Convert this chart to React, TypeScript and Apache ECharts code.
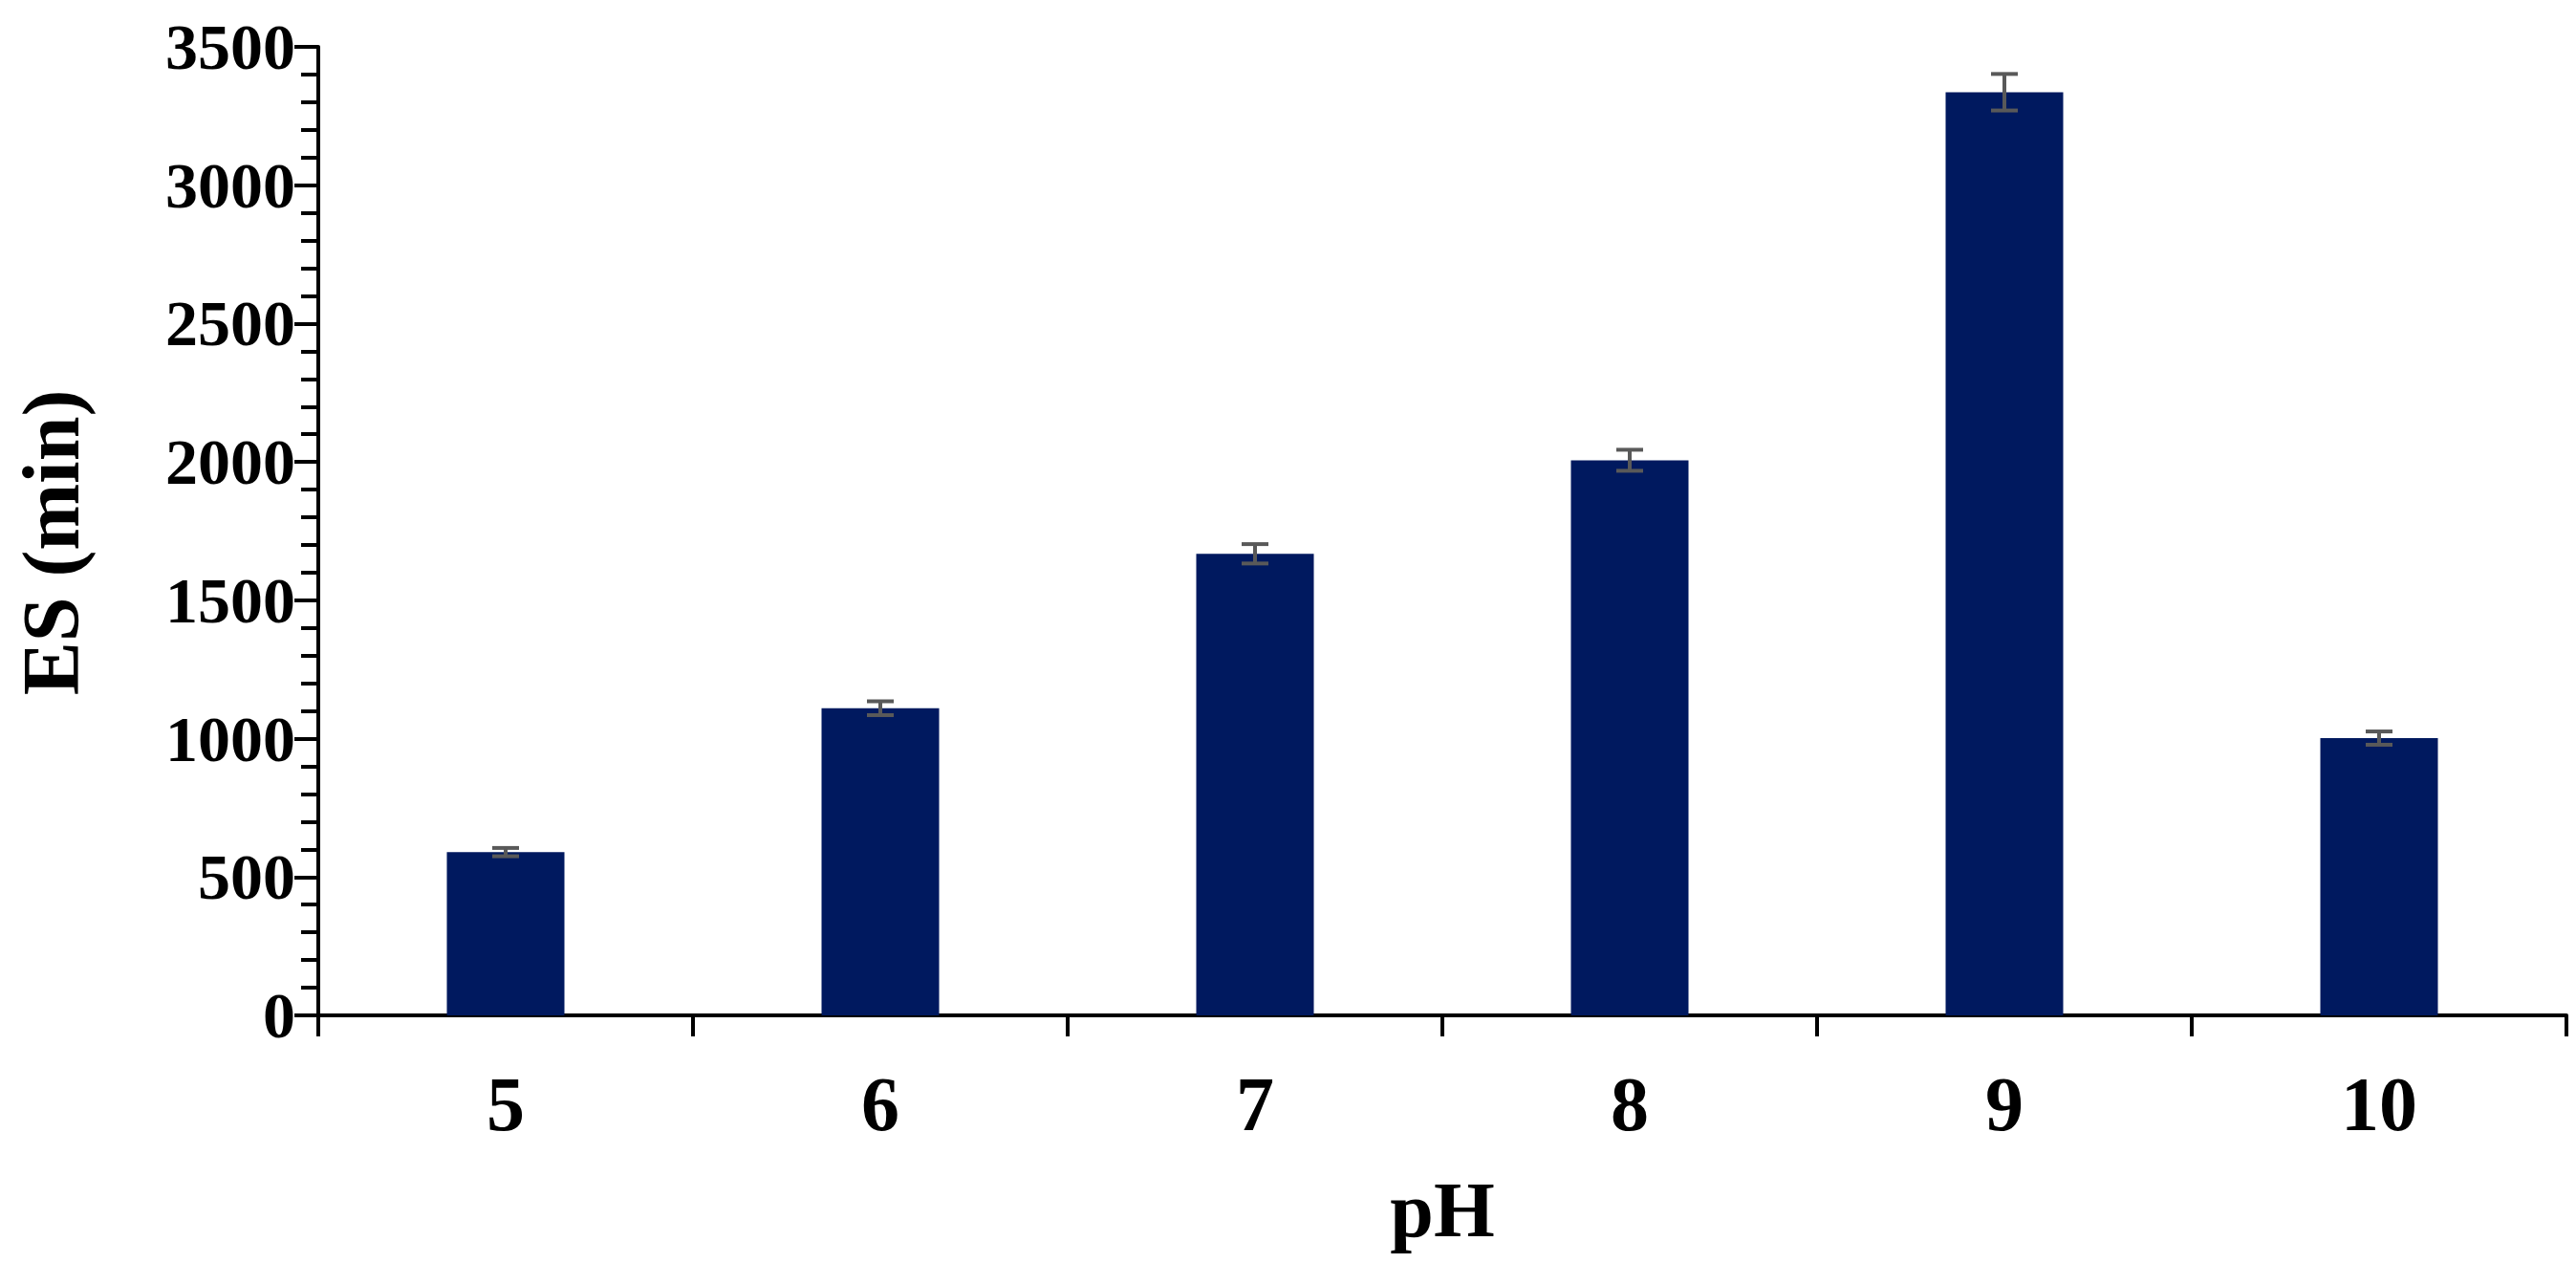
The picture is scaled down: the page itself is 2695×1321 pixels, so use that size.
import React, { useEffect, useRef } from "react";
import * as echarts from "echarts";

const categories = ["5", "6", "7", "8", "9", "10"];
const esValues = [590, 1110, 1668, 2006, 3336, 1002];
const esErrors = [15, 25, 35, 38, 66, 24];
const yTicks = [0, 500, 1000, 1500, 2000, 2500, 3000, 3500];

const FONT = "Liberation Serif";

export default function App() {
  const ref = useRef<HTMLDivElement>(null);
  useEffect(() => {
    if (!ref.current) return;
    const chart = echarts.init(ref.current, null, { renderer: "svg" });
    const errData = categories.map((c, i) => [i, esValues[i] - esErrors[i], esValues[i] + esErrors[i]]);
    chart.setOption({
      animation: false,
      backgroundColor: "#ffffff",
      grid: { left: 325, right: 2, top: 41, bottom: 251, containLabel: false, outerBoundsMode: "none" },
      xAxis: {
        type: "category",
        data: categories,
        boundaryGap: true,
        name: "pH",
        nameLocation: "middle",
        nameGap: 162,
        nameTextStyle: { fontFamily: FONT, fontWeight: "bold", fontSize: 82, color: "#000" },
        axisLine: { show: true, lineStyle: { color: "#000", width: 4 } },
        axisTick: { show: true, alignWithLabel: false, length: 22, lineStyle: { color: "#000", width: 4 } },
        axisLabel: { fontFamily: FONT, fontWeight: "bold", fontSize: 80, color: "#000", margin: 53 },
        splitLine: { show: false },
      },
      yAxis: {
        type: "value",
        min: yTicks[0],
        max: yTicks[yTicks.length - 1],
        interval: 500,
        name: "ES (min)",
        nameLocation: "middle",
        nameRotate: 90,
        nameGap: 238,
        nameTextStyle: {
          fontFamily: FONT,
          fontWeight: "bold",
          fontSize: 84,
          color: "#000",
          lineHeight: 84,
          padding: [0, 24, 0, 0],
        },
        axisLine: { show: true, lineStyle: { color: "#000", width: 4 } },
        axisTick: { show: true, inside: false, length: 25, lineStyle: { color: "#000", width: 4 } },
        minorTick: { show: true, splitNumber: 5, length: 18, lineStyle: { color: "#000", width: 4 } },
        axisLabel: {
          fontFamily: FONT,
          fontWeight: "bold",
          fontSize: 68,
          color: "#000",
          margin: 24,
          formatter: (v: number) => String(v),
        },
        splitLine: { show: false },
        minorSplitLine: { show: false },
      },
      series: [
        {
          type: "bar",
          data: esValues,
          barWidth: 123,
          itemStyle: { color: "#00195F" },
          z: 2,
        },
        {
          type: "custom",
          data: errData,
          z: 5,
          renderItem: (params: any, api: any) => {
            const x = api.value(0);
            const lo = api.coord([x, api.value(1)]);
            const hi = api.coord([x, api.value(2)]);
            const hw = 14;
            const style = { stroke: "#595959", lineWidth: 4 };
            return {
              type: "group",
              children: [
                { type: "line", shape: { x1: hi[0], y1: hi[1], x2: lo[0], y2: lo[1] }, style },
                { type: "line", shape: { x1: hi[0] - hw, y1: hi[1], x2: hi[0] + hw, y2: hi[1] }, style },
                { type: "line", shape: { x1: lo[0] - hw, y1: lo[1], x2: lo[0] + hw, y2: lo[1] }, style },
              ],
            };
          },
        },
      ],
    });
    return () => chart.dispose();
  }, []);
  return <div ref={ref} style={{ width: 2679, height: 1305 }} />;
}
